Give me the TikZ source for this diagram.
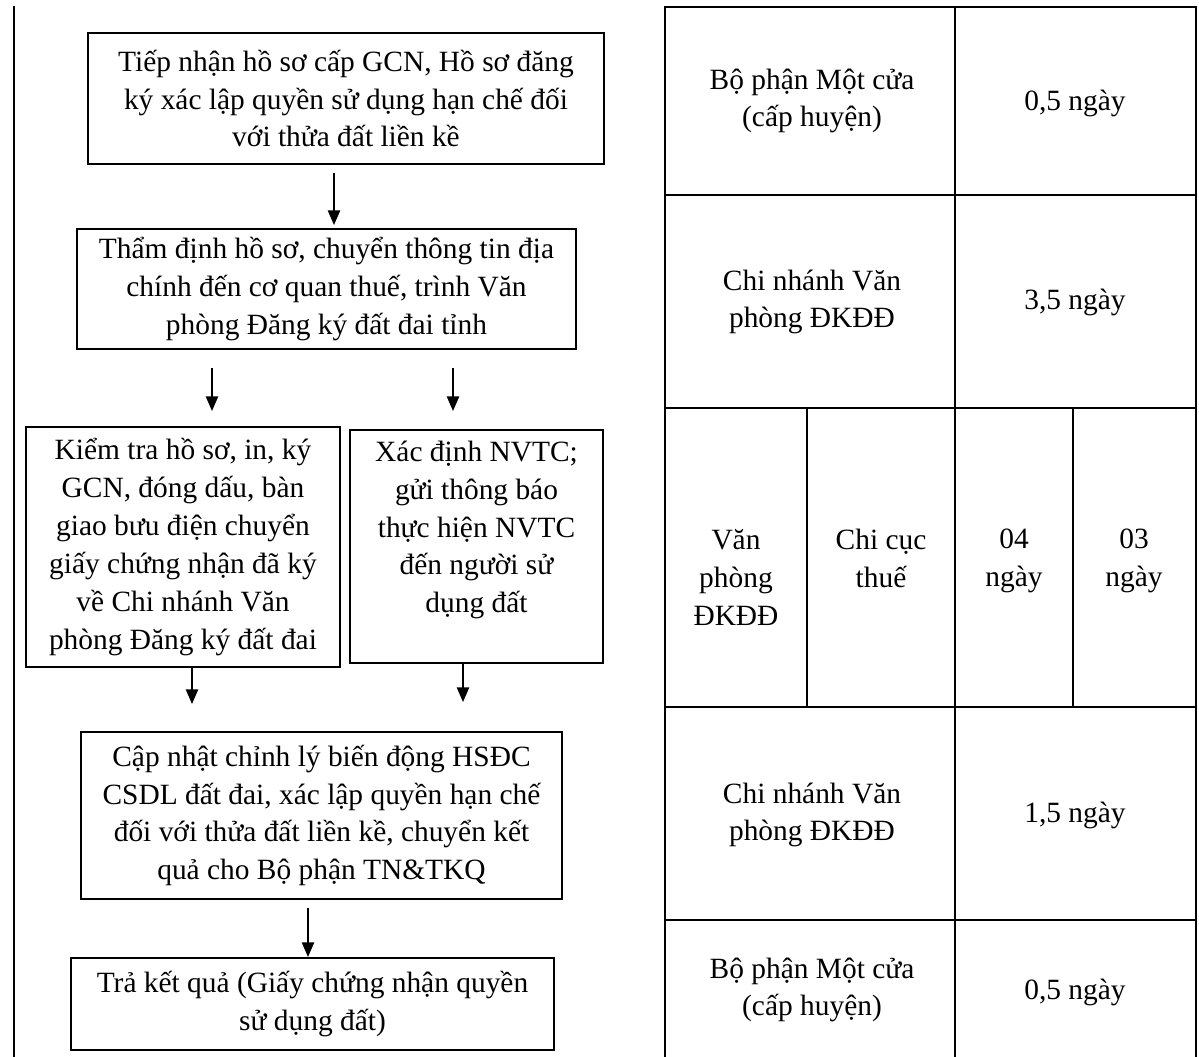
\documentclass[tikz,border=0pt]{standalone}
\usepackage{fontspec}
\setmainfont{Liberation Serif}
\usetikzlibrary{arrows.meta,calc}
\newcommand\upx{0.476pt}
\tikzset{
  flowbox/.style={draw,line width=.9pt,align=center,inner sep=0pt},
  flowarrow/.style={line width=.9pt,-{Triangle[length=7pt,width=5.8pt]}},
  tabline/.style={line width=.9pt},
  celltext/.style={align=center}
}

\begin{document}
\begin{tikzpicture}[x=0.476pt,y=-0.476pt,font=\fontsize{14}{18}\selectfont]
    \useasboundingbox (0,0) rectangle (1199,1057);
    \draw[tabline] (14,6)--(14,1057);
    % flow chart
    \node[flowbox,minimum width=516*\upx,minimum height=131*\upx] (tiepnhan) at (346,98.5) {Tiếp nhận hồ sơ cấp GCN, Hồ sơ đăng\\ký xác lập quyền sử dụng hạn chế đối\\với thửa đất liền kề};
    \node[flowbox,minimum width=499*\upx,minimum height=120*\upx] (thamdinh) at (326.5,289) {Thẩm định hồ sơ, chuyển thông tin địa\\chính đến cơ quan thuế, trình Văn\\phòng Đăng ký đất đai tỉnh};
    \node[flowbox,minimum width=314*\upx,minimum height=240*\upx] (kiemtra) at (183,547) {Kiểm tra hồ sơ, in, ký\\GCN, đóng dấu, bàn\\giao bưu điện chuyển\\giấy chứng nhận đã ký\\về Chi nhánh Văn\\phòng Đăng ký đất đai};
    \node[flowbox,minimum width=253*\upx,minimum height=233*\upx] (xacdinh) at (476.5,546.5) {};
    \node[celltext] (xacdinhtxt) at (476.5,530) {Xác định NVTC;\\gửi thông báo\\thực hiện NVTC\\đến người sử\\dụng đất};
    \node[flowbox,minimum width=481*\upx,minimum height=167*\upx] (capnhat) at (321.5,815.5) {Cập nhật chỉnh lý biến động HSĐC\\CSDL đất đai, xác lập quyền hạn chế\\đối với thửa đất liền kề, chuyển kết\\quả cho Bộ phận TN\&TKQ};
    \node[flowbox,minimum width=483*\upx,minimum height=92*\upx] (traketqua) at (312.5,1004) {Trả kết quả (Giấy chứng nhận quyền\\sử dụng đất)};
    \coordinate (xa) at (334,0); \coordinate (xb) at (212,0); \coordinate (xc) at (453,0);
    \coordinate (xd) at (192,0); \coordinate (xe) at (463,0); \coordinate (xf) at (308,0);
    \draw[flowarrow] ($(tiepnhan.south -| xa)+(0,8)$)--($(thamdinh.north -| xa)+(0,-3)$);
    \draw[flowarrow] ($(thamdinh.south -| xb)+(0,18)$)--($(kiemtra.north -| xb)+(0,-15)$);
    \draw[flowarrow] ($(thamdinh.south -| xc)+(0,18)$)--($(xacdinh.north -| xc)+(0,-18)$);
    \draw[flowarrow] (kiemtra.south -| xd)--($(capnhat.north -| xd)+(0,-27)$);
    \draw[flowarrow] (xacdinh.south -| xe)--($(capnhat.north -| xe)+(0,-29)$);
    \draw[flowarrow] ($(capnhat.south -| xf)+(0,8)$)--(traketqua.north -| xf);
    % time table
    \draw[tabline] (665,1057)--(665,7)--(1196,7)--(1196,1057);
    \draw[tabline] (955,7)--(955,1057);
    \foreach \y in {195,408,707,920}{\draw[tabline] (665,\y)--(1196,\y);}
    \draw[tabline] (807,408)--(807,707) (1073,408)--(1073,707);
    \node[celltext] (motcua1) at (812,101) {Bộ phận Một cửa\\(cấp huyện)};
    \node[celltext] (ngay1) at (1075,103) {0,5 ngày};
    \node[celltext] (chinhanh1) at (812,302) {Chi nhánh Văn\\phòng ĐKĐĐ};
    \node[celltext] (ngay2) at (1075,302) {3,5 ngày};
    \node[celltext,anchor=north] (vanphong) at (736,522) {Văn\\phòng\\ĐKĐĐ};
    \node[celltext,anchor=north] (chicuc) at (881,522) {Chi cục\\thuế};
    \node[celltext,anchor=north] (ngay3) at (1014,522) {04\\ngày};
    \node[celltext,anchor=north] (ngay4) at (1134,522) {03\\ngày};
    \node[celltext] (chinhanh2) at (812,815) {Chi nhánh Văn\\phòng ĐKĐĐ};
    \node[celltext] (ngay5) at (1075,815) {1,5 ngày};
    \node[celltext] (motcua2) at (812,990) {Bộ phận Một cửa\\(cấp huyện)};
    \node[celltext] (ngay6) at (1075,992) {0,5 ngày};
  \end{tikzpicture}
\end{document}
